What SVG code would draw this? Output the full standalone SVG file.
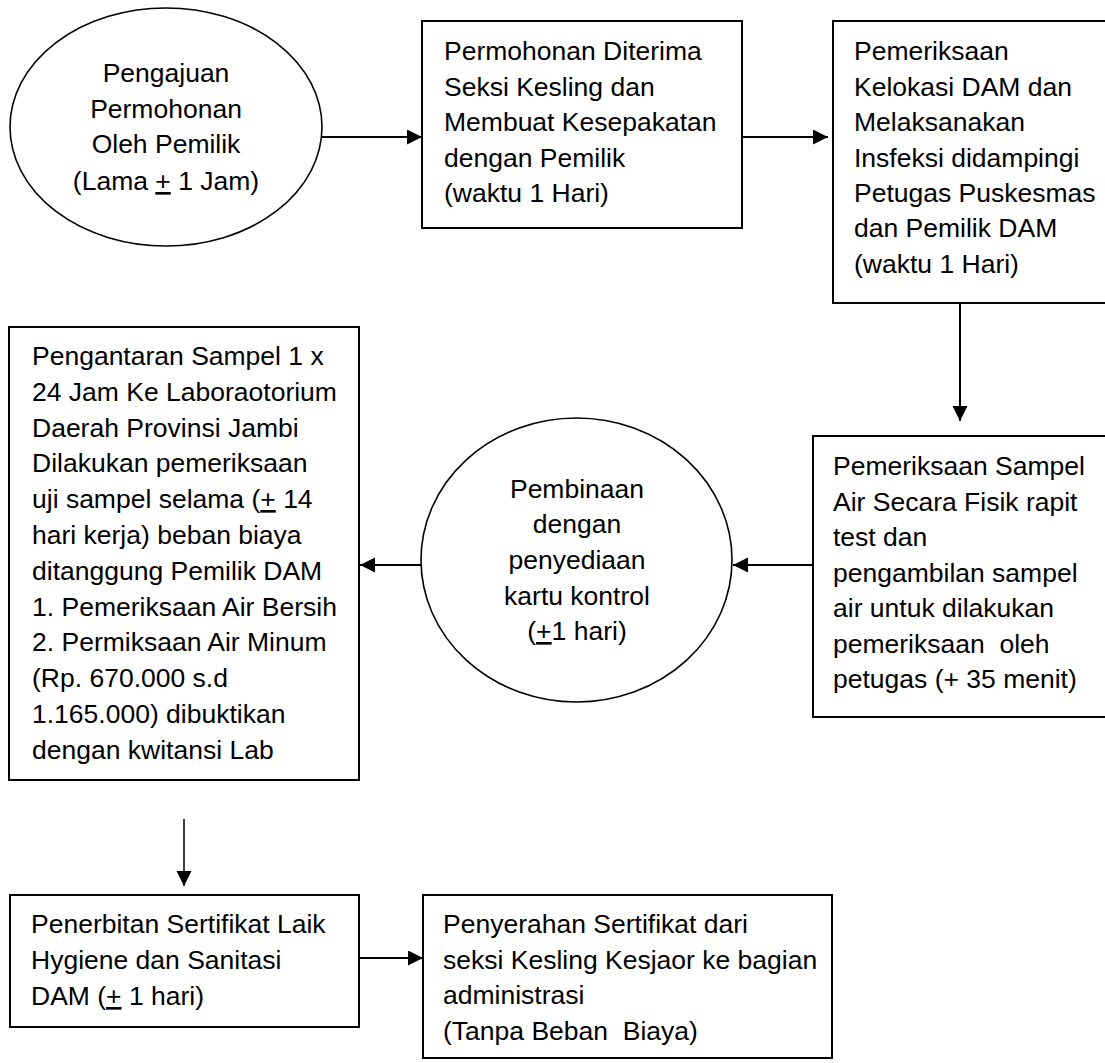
<svg xmlns="http://www.w3.org/2000/svg" width="1105" height="1063" viewBox="0 0 1105 1063">
<style>
text { font-family: "Liberation Sans", Arial, sans-serif; font-size: 26.5px; fill: #000; white-space: pre; }
.c { text-anchor: middle; }
.node { fill: #fff; stroke: #000; stroke-width: 2; }
.ell { fill: #fff; stroke: #000; stroke-width: 1.6; }
.conn { stroke: #000; stroke-width: 2; fill: none; }
.thin { stroke-width: 1.5; }
.u { text-decoration: underline; }
</style>
<defs>
<marker id="ah" markerUnits="userSpaceOnUse" markerWidth="16" markerHeight="16" refX="15" refY="7.5" orient="auto">
<path d="M0,0 L15,7.5 L0,15 Z" fill="#000"/>
</marker>
</defs>
<rect width="1105" height="1063" fill="#fff"/>

<g id="connectors">
<line class="conn" x1="322" y1="137" x2="422" y2="137" marker-end="url(#ah)"/>
<line class="conn" x1="742" y1="137" x2="828" y2="137" marker-end="url(#ah)"/>
<line class="conn" x1="960" y1="303" x2="960" y2="421" marker-end="url(#ah)"/>
<line class="conn" x1="813" y1="565" x2="733" y2="565" marker-end="url(#ah)"/>
<line class="conn" x1="421" y1="565" x2="360" y2="565" marker-end="url(#ah)"/>
<line class="conn thin" x1="184" y1="819" x2="184" y2="886" marker-end="url(#ah)"/>
<line class="conn" x1="359" y1="958" x2="423" y2="958" marker-end="url(#ah)"/>
</g>

<g id="n1">
<ellipse class="ell" cx="166" cy="127" rx="156" ry="119"/>
<text class="c" x="166" y="82">Pengajuan</text>
<text class="c" x="166" y="118">Permohonan</text>
<text class="c" x="166" y="153">Oleh Pemilik</text>
<text class="c" x="166" y="190">(Lama <tspan class="u">+</tspan> 1 Jam)</text>
</g>

<g id="n2">
<rect class="node" x="422" y="21" width="320" height="207"/>
<text x="444" y="60">Permohonan Diterima</text>
<text x="444" y="96">Seksi Kesling dan</text>
<text x="444" y="131">Membuat Kesepakatan</text>
<text x="444" y="167">dengan Pemilik</text>
<text x="444" y="202">(waktu 1 Hari)</text>
</g>

<g id="n3">
<rect class="node" x="833" y="21" width="275" height="282"/>
<text x="854" y="60">Pemeriksaan</text>
<text x="854" y="96">Kelokasi DAM dan</text>
<text x="854" y="131">Melaksanakan</text>
<text x="854" y="167">Insfeksi didampingi</text>
<text x="854" y="202">Petugas Puskesmas</text>
<text x="854" y="237">dan Pemilik DAM</text>
<text x="854" y="273">(waktu 1 Hari)</text>
</g>

<g id="n4">
<rect class="node" x="813" y="436" width="295" height="281"/>
<text x="833" y="475">Pemeriksaan Sampel</text>
<text x="833" y="511">Air Secara Fisik rapit</text>
<text x="833" y="546">test dan</text>
<text x="833" y="582">pengambilan sampel</text>
<text x="833" y="617">air untuk dilakukan</text>
<text x="833" y="653">pemeriksaan  oleh</text>
<text x="833" y="688">petugas (+ 35 menit)</text>
</g>

<g id="n5">
<ellipse class="ell" cx="576.5" cy="560" rx="155.5" ry="142"/>
<text class="c" x="577" y="498">Pembinaan</text>
<text class="c" x="577" y="533">dengan</text>
<text class="c" x="577" y="569">penyediaan</text>
<text class="c" x="577" y="605">kartu kontrol</text>
<text class="c" x="577" y="640">(<tspan class="u">+</tspan>1 hari)</text>
</g>

<g id="n6">
<rect class="node" x="9" y="327" width="350" height="453"/>
<text x="32" y="365">Pengantaran Sampel 1 x</text>
<text x="32" y="401">24 Jam Ke Laboraotorium</text>
<text x="32" y="437">Daerah Provinsi Jambi</text>
<text x="32" y="472">Dilakukan pemeriksaan</text>
<text x="32" y="508">uji sampel selama (<tspan class="u">+</tspan> 14</text>
<text x="32" y="544">hari kerja) beban biaya</text>
<text x="32" y="580">ditanggung Pemilik DAM</text>
<text x="32" y="616">1. Pemeriksaan Air Bersih</text>
<text x="32" y="651">2. Permiksaan Air Minum</text>
<text x="32" y="687">(Rp. 670.000 s.d</text>
<text x="32" y="723">1.165.000) dibuktikan</text>
<text x="32" y="759">dengan kwitansi Lab</text>
</g>

<g id="n7">
<rect class="node" x="10" y="895" width="349" height="132"/>
<text x="31" y="933">Penerbitan Sertifikat Laik</text>
<text x="31" y="969">Hygiene dan Sanitasi</text>
<text x="31" y="1005">DAM (<tspan class="u">+</tspan> 1 hari)</text>
</g>

<g id="n8">
<rect class="node" x="423" y="895" width="409" height="163"/>
<text x="443" y="933">Penyerahan Sertifikat dari</text>
<text x="443" y="969">seksi Kesling Kesjaor ke bagian</text>
<text x="443" y="1004">administrasi</text>
<text x="443" y="1040">(Tanpa Beban  Biaya)</text>
</g>
</svg>
